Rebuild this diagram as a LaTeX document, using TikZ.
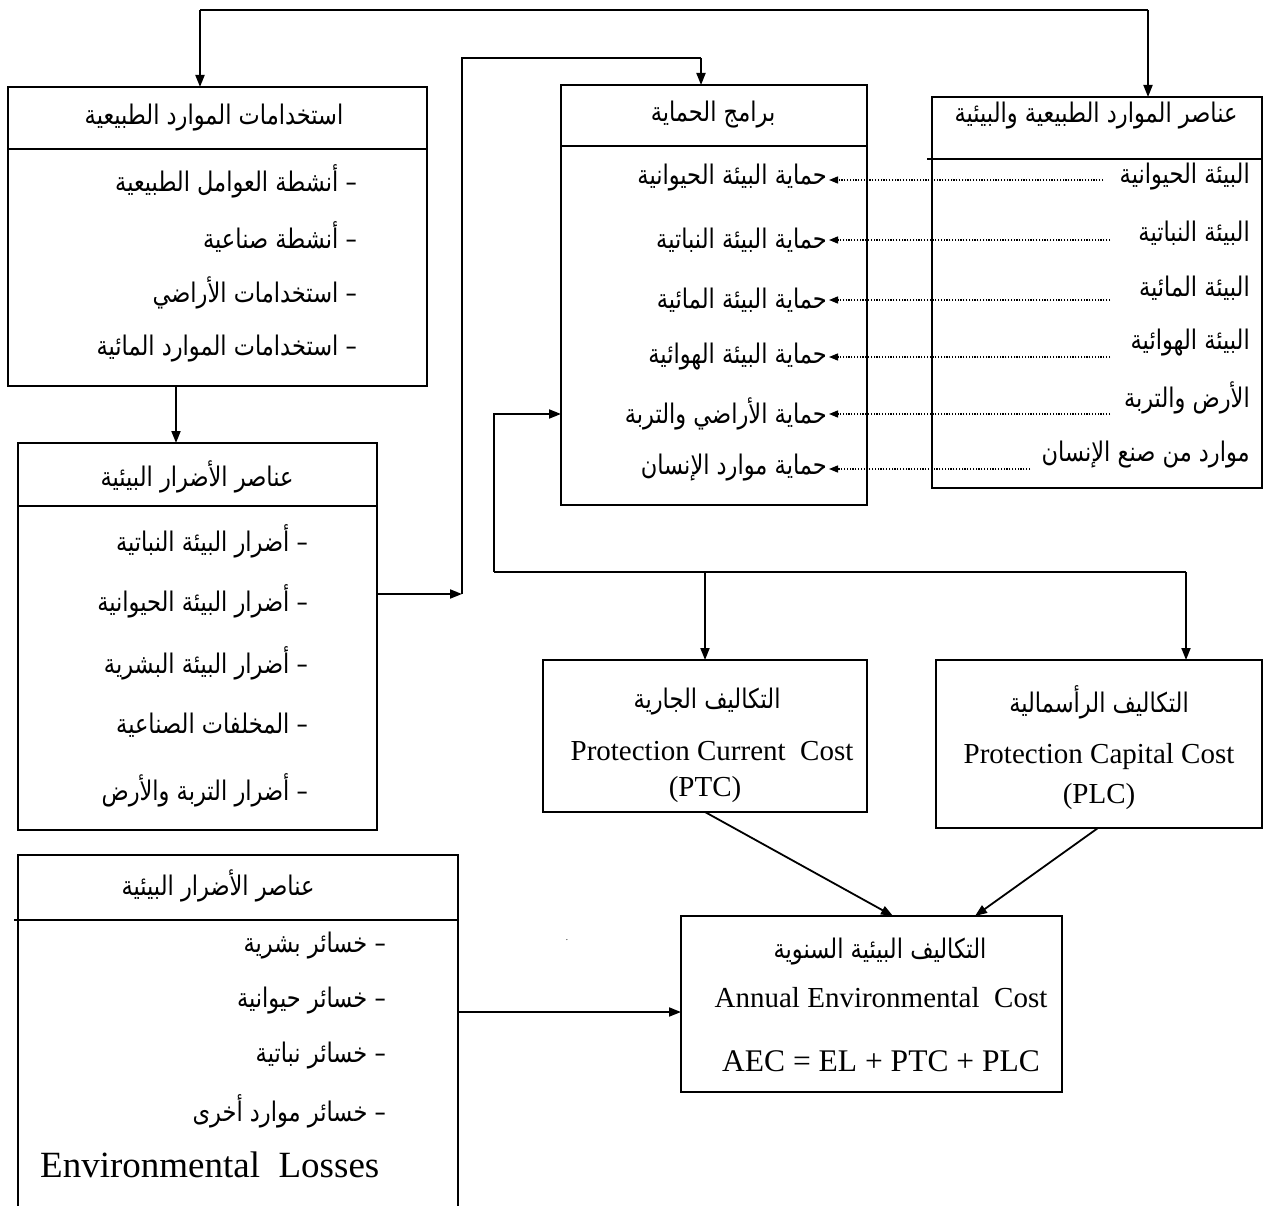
\documentclass[tikz,border=0pt]{standalone}
\usepackage{graphicx}
\usepackage{fontspec}
\setmainfont{Liberation Serif}
\newfontfamily\arabicfont[Script=Arabic]{DejaVu Sans}
\TeXXeTstate=1
\usetikzlibrary{arrows.meta}
\newcommand{\artx}[1]{\scalebox{1}[1.2]{\arabicfont\beginR #1\endR}}
\tikzset{
  box/.style={draw, line width=1.5pt, inner sep=0pt, outer sep=0pt},
  divider/.style={line width=1.5pt},
  conn/.style={line width=1.8pt},
  arr/.style={line width=1.8pt, -{Triangle[length=12pt,width=9pt]}},
  dotarr/.style={line width=1.3pt, dash pattern=on 1.2pt off 1.6pt, -{Triangle[length=9pt,width=7pt]}},
  artext/.style={inner sep=0pt, font=\fontsize{22.5}{26}\selectfont},
  latext/.style={inner sep=0pt, font=\fontsize{29}{33}\selectfont},
}
\begin{document}
\begin{tikzpicture}[x=1pt,y=-1pt]
\useasboundingbox (0,0) rectangle (1264,1206);
\fill[white] (0,0) rectangle (1264,1206);

% ---------- boxes ----------
\node[box, minimum width=419pt, minimum height=299pt, anchor=north west] (A) at (8,87) {};
\node[box, minimum width=359pt, minimum height=387pt, anchor=north west] (B) at (18,443) {};
\node[box, minimum width=306pt, minimum height=420pt, anchor=north west] (P) at (561,85) {};
\node[box, minimum width=330pt, minimum height=391pt, anchor=north west] (C) at (932,97) {};
\node[box, minimum width=324pt, minimum height=152pt, anchor=north west] (PTC) at (543,660) {};
\node[box, minimum width=326pt, minimum height=168pt, anchor=north west] (PLC) at (936,660) {};
\node[box, minimum width=381pt, minimum height=176pt, anchor=north west] (AEC) at (681,916) {};
\coordinate (Dtl) at (18,855);
\coordinate (Dtr) at (458,855);
\draw[divider] (18,1206) -- (Dtl) -- (Dtr) -- (458,1206);

% dividers
\draw[divider] (A.west |- 0,149) -- (A.east |- 0,149);
\draw[divider] (B.west |- 0,506) -- (B.east |- 0,506);
\draw[divider] (P.west |- 0,146) -- (P.east |- 0,146);
\draw[divider] (927,159) -- (C.east |- 0,159);
\draw[divider] (14,920) -- (458,920);

% ---------- texts ----------
\node[artext] (Ah) at (214,118) {\artx{استخدامات الموارد الطبيعية}};
\node[artext, anchor=east] (A1) at (357,181) {\artx{– أنشطة العوامل الطبيعية}};
\node[artext, anchor=east] (A2) at (357,237) {\artx{– أنشطة صناعية}};
\node[artext, anchor=east] (A3) at (357,293) {\artx{– استخدامات الأراضي}};
\node[artext, anchor=east] (A4) at (357,349) {\artx{– استخدامات الموارد المائية}};

\node[artext] (Bh) at (197,477) {\artx{عناصر الأضرار البيئية}};
\node[artext, anchor=east] (B1) at (308,541) {\artx{– أضرار البيئة النباتية}};
\node[artext, anchor=east] (B2) at (308,601) {\artx{– أضرار البيئة الحيوانية}};
\node[artext, anchor=east] (B3) at (308,663) {\artx{– أضرار البيئة البشرية}};
\node[artext, anchor=east] (B4) at (308,725) {\artx{– المخلفات الصناعية}};
\node[artext, anchor=east] (B5) at (308,790) {\artx{– أضرار التربة والأرض}};

\node[artext] (Ph) at (713,115) {\artx{برامج الحماية}};
\node[artext, anchor=east] (P1) at (827,178) {\artx{حماية البيئة الحيوانية}};
\node[artext, anchor=east] (P2) at (827,240) {\artx{حماية البيئة النباتية}};
\node[artext, anchor=east] (P3) at (827,300) {\artx{حماية البيئة المائية}};
\node[artext, anchor=east] (P4) at (827,357) {\artx{حماية البيئة الهوائية}};
\node[artext, anchor=east] (P5) at (827,414) {\artx{حماية الأراضي والتربة}};
\node[artext, anchor=east] (P6) at (827,468) {\artx{حماية موارد الإنسان}};

\node[artext] (Ch) at (1096,116) {\artx{عناصر الموارد الطبيعية والبيئية}};
\node[artext, anchor=east] (C1) at (1250,177) {\artx{البيئة الحيوانية}};
\node[artext, anchor=east] (C2) at (1250,233) {\artx{البيئة النباتية}};
\node[artext, anchor=east] (C3) at (1250,288) {\artx{البيئة المائية}};
\node[artext, anchor=east] (C4) at (1250,343) {\artx{البيئة الهوائية}};
\node[artext, anchor=east] (C5) at (1250,398) {\artx{الأرض والتربة}};
\node[artext, anchor=east] (C6) at (1250,455) {\artx{موارد من صنع الإنسان}};

\node[artext] (Dh) at (218,886) {\artx{عناصر الأضرار البيئية}};
\node[artext, anchor=east] (D1) at (386,946) {\artx{– خسائر بشرية}};
\node[artext, anchor=east] (D2) at (386,1001) {\artx{– خسائر حيوانية}};
\node[artext, anchor=east] (D3) at (386,1056) {\artx{– خسائر نباتية}};
\node[artext, anchor=east] (D4) at (386,1111) {\artx{– خسائر موارد أخرى}};
\node[inner sep=0pt, anchor=west, font=\fontsize{37}{40}\selectfont] (D5) at (40,1165) {Environmental\ \ Losses};

\node[artext] (T1) at (707,702) {\artx{التكاليف الجارية}};
\node[latext] (T2) at (712,751) {Protection Current\ \ Cost};
\node[latext] (T3) at (705,790) {(PTC)};

\node[artext] (K1) at (1099,702) {\artx{التكاليف الرأسمالية}};
\node[latext] (K2) at (1099,757) {Protection Capital Cost};
\node[latext] (K3) at (1099,797) {(PLC)};

\node[artext] (E1) at (880,952) {\artx{التكاليف البيئية السنوية}};
\node[latext] (E2) at (881,998) {Annual Environmental\ \ Cost};
\node[latext, font=\fontsize{31.5}{34}\selectfont] (E3) at (881,1061) {AEC = EL + PTC + PLC};

\node[inner sep=0pt, font=\small] (dot) at (567,940) {.};

% ---------- connectors ----------
\coordinate (t1) at (200,10);
\coordinate (t2) at (1148,10);
\draw[conn] (t1) -- (t2);
\draw[arr] (t1) -- (t1 |- A.north);
\draw[arr] (t2) -- (t2 |- C.north);

\coordinate (ab) at (176,386);
\draw[arr] (A.south -| ab) -- (B.north -| ab);

\coordinate (bj) at (462,594);
\coordinate (bt) at (462,58);
\coordinate (pt) at (701,58);
\draw[arr] (B.east |- bj) -- (bj);
\draw[conn] (bj) -- (bt) -- (pt);
\draw[arr] (pt) -- (pt |- P.north);

\coordinate (bl) at (494,572);
\coordinate (br) at (1186,572);
\coordinate (bu) at (494,414);
\coordinate (bm) at (705,572);
\draw[conn] (bl) -- (br);
\draw[arr] (bl) -- (bu) -- (P.west |- bu);
\draw[arr] (bm) -- (bm |- PTC.north);
\draw[arr] (br) -- (br |- PLC.north);

\coordinate (ptcs) at (705,812);
\coordinate (plcs) at (1098,828);
\coordinate (aec1) at (893,916);
\coordinate (aec2) at (975,916);
\draw[arr] (ptcs) -- (aec1);
\draw[arr] (plcs) -- (aec2);

\coordinate (dj) at (458,1012);
\draw[arr] (dj) -- (AEC.west |- dj);

% dotted
\coordinate (s1) at (1103,180);
\coordinate (s2) at (1110,240);
\coordinate (s3) at (1110,300);
\coordinate (s4) at (1110,357);
\coordinate (s5) at (1110,414);
\coordinate (s6) at (1030,469);
\draw[dotarr] (s1) -- ([xshift=2pt]P1.east |- s1);
\draw[dotarr] (s2) -- ([xshift=2pt]P2.east |- s2);
\draw[dotarr] (s3) -- ([xshift=2pt]P3.east |- s3);
\draw[dotarr] (s4) -- ([xshift=2pt]P4.east |- s4);
\draw[dotarr] (s5) -- ([xshift=2pt]P5.east |- s5);
\draw[dotarr] (s6) -- ([xshift=2pt]P6.east |- s6);
\end{tikzpicture}
\end{document}
